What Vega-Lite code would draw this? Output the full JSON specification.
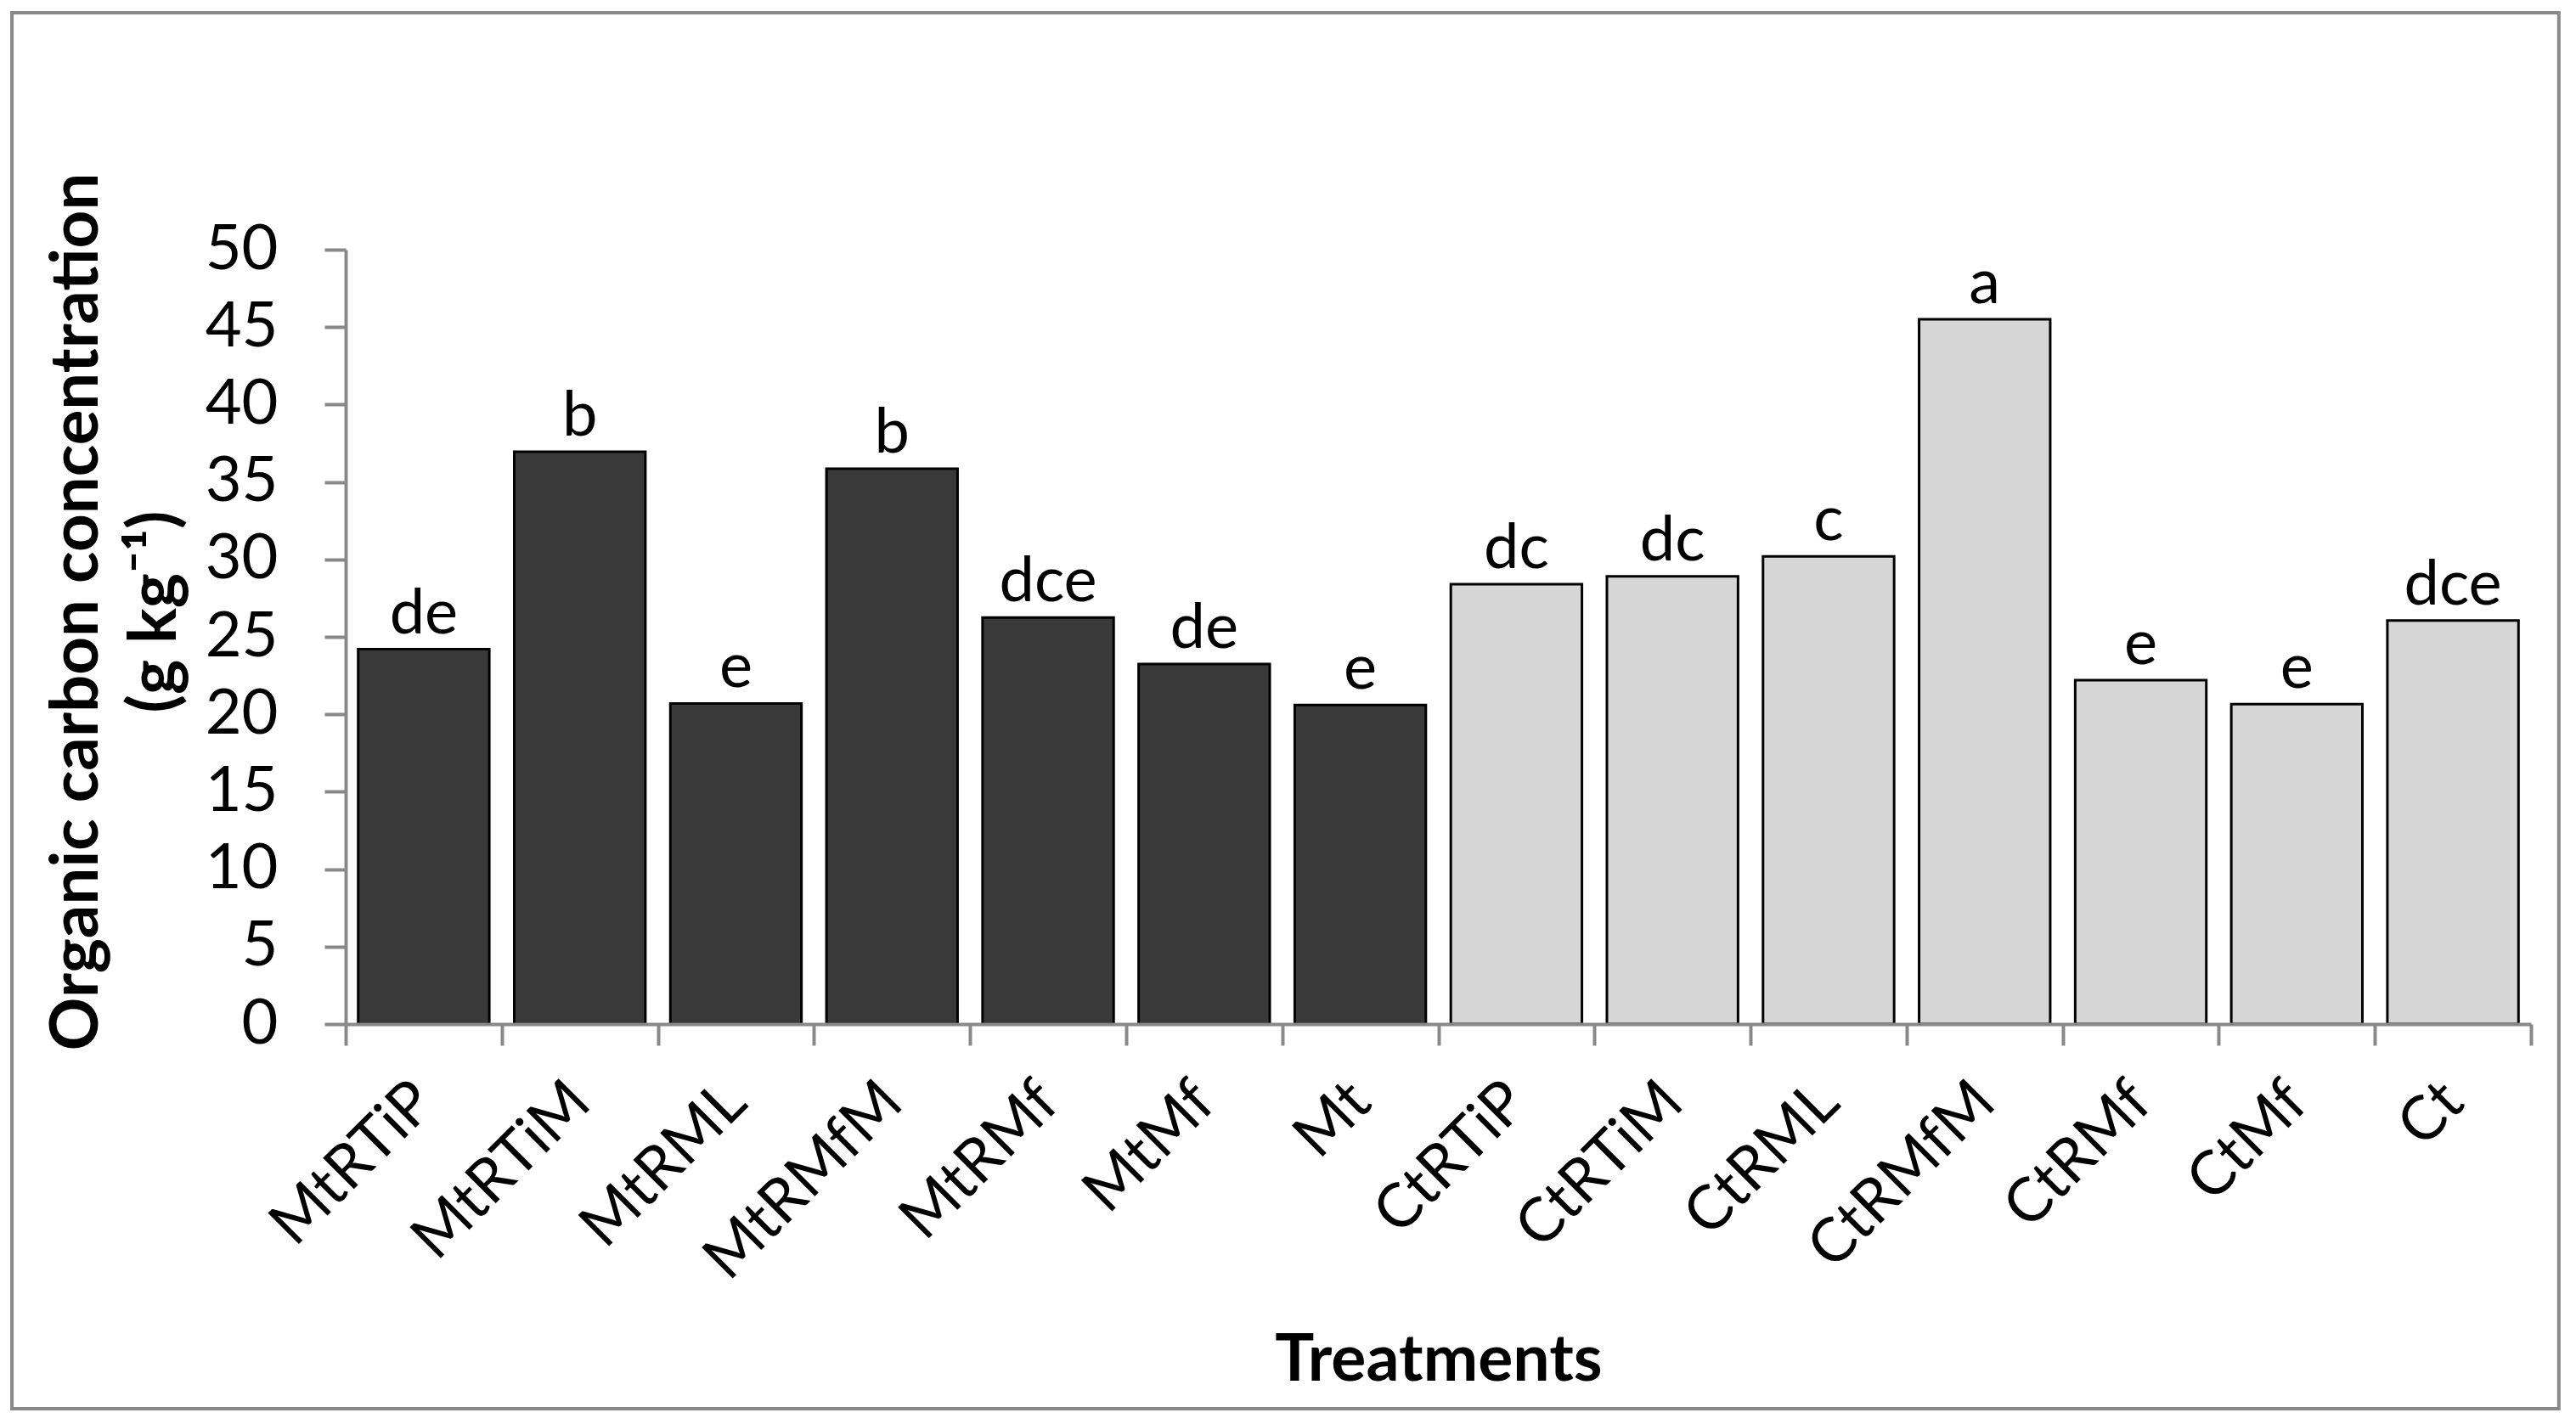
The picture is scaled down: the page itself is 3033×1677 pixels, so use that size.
{
  "$schema": "https://vega.github.io/schema/vega-lite/v6.json",
  "width": 2573,
  "height": 912,
  "autosize": {"type": "none"},
  "padding": {"left": 407, "top": 294, "right": 53, "bottom": 471},
  "background": "white",
  "config": {"view": {"stroke": null}, "font": "Lato"},
  "data": {
    "values": [
      {"treatment": "MtRTiP", "value": 24.2, "letter": "de", "group": "Mt"},
      {"treatment": "MtRTiM", "value": 36.95, "letter": "b", "group": "Mt"},
      {"treatment": "MtRML", "value": 20.7, "letter": "e", "group": "Mt"},
      {"treatment": "MtRMfM", "value": 35.85, "letter": "b", "group": "Mt"},
      {"treatment": "MtRMf", "value": 26.25, "letter": "dce", "group": "Mt"},
      {"treatment": "MtMf", "value": 23.25, "letter": "de", "group": "Mt"},
      {"treatment": "Mt", "value": 20.6, "letter": "e", "group": "Mt"},
      {"treatment": "CtRTiP", "value": 28.4, "letter": "dc", "group": "Ct"},
      {"treatment": "CtRTiM", "value": 28.9, "letter": "dc", "group": "Ct"},
      {"treatment": "CtRML", "value": 30.2, "letter": "c", "group": "Ct"},
      {"treatment": "CtRMfM", "value": 45.5, "letter": "a", "group": "Ct"},
      {"treatment": "CtRMf", "value": 22.2, "letter": "e", "group": "Ct"},
      {"treatment": "CtMf", "value": 20.65, "letter": "e", "group": "Ct"},
      {"treatment": "Ct", "value": 26.05, "letter": "dce", "group": "Ct"}
    ]
  },
  "layer": [
    {
      "data": {"values": [{}]},
      "mark": {"type": "rect", "filled": false, "stroke": "#898989", "strokeWidth": 4},
      "encoding": {
        "x": {"datum": "MtRTiP", "type": "nominal", "bandPosition": -2.138},
        "x2": {"datum": "Ct", "bandPosition": 1.1785},
        "y": {"datum": 65.3, "type": "quantitative"},
        "y2": {"datum": -24.84}
      }
    },
    {
      "mark": {"type": "bar", "stroke": "black", "strokeWidth": 3, "width": {"band": 0.84}},
      "encoding": {
        "x": {
          "field": "treatment",
          "type": "nominal",
          "sort": null,
          "scale": {
            "domain": ["MtRTiP", "MtRTiM", "MtRML", "MtRMfM", "MtRMf", "MtMf", "Mt", "CtRTiP", "CtRTiM", "CtRML", "CtRMfM", "CtRMf", "CtMf", "Ct"],
            "paddingInner": 0,
            "paddingOuter": 0,
            "round": false
          },
          "axis": {
            "title": "Treatments",
            "labelAngle": -45,
            "labelAlign": "right",
            "labelBaseline": "middle",
            "labelFontSize": 72,
            "labelColor": "black",
            "labelPadding": 55,
            "labelLimit": 1000,
            "labelOverlap": false,
            "tickBand": "extent",
            "tickSize": 25,
            "tickWidth": 4,
            "tickColor": "#898989",
            "domainColor": "#898989",
            "domainWidth": 4,
            "titleFontSize": 77,
            "titleFontWeight": "bold",
            "titleColor": "black",
            "titleY": 419,
            "titleBaseline": "alphabetic"
          }
        },
        "y": {
          "field": "value",
          "type": "quantitative",
          "scale": {"domain": [0, 50], "nice": false},
          "axis": {
            "values": [0, 5, 10, 15, 20, 25, 30, 35, 40, 45, 50],
            "title": ["Organic carbon concentration", "(g kg⁻¹)"],
            "grid": false,
            "tickSize": 25,
            "tickWidth": 4,
            "tickColor": "#898989",
            "domainColor": "#898989",
            "domainWidth": 4,
            "labelFontSize": 74,
            "labelColor": "black",
            "labelPadding": 55,
            "titleAngle": -90,
            "titleX": -316,
            "titleY": 426,
            "titleAlign": "center",
            "titleBaseline": "middle",
            "titleLineHeight": 92,
            "titleFontSize": 78,
            "titleFontWeight": "bold",
            "titleColor": "black"
          }
        },
        "y2": {"datum": 0},
        "color": {
          "field": "group",
          "type": "nominal",
          "scale": {"domain": ["Mt", "Ct"], "range": ["#3a3a3a", "#d6d6d6"]},
          "legend": null
        }
      }
    },
    {
      "mark": {"type": "text", "fontSize": 74, "baseline": "alphabetic", "align": "center", "dy": -19, "color": "black"},
      "encoding": {
        "x": {"field": "treatment", "type": "nominal", "sort": null},
        "y": {"field": "value", "type": "quantitative"},
        "text": {"field": "letter"}
      }
    }
  ]
}
